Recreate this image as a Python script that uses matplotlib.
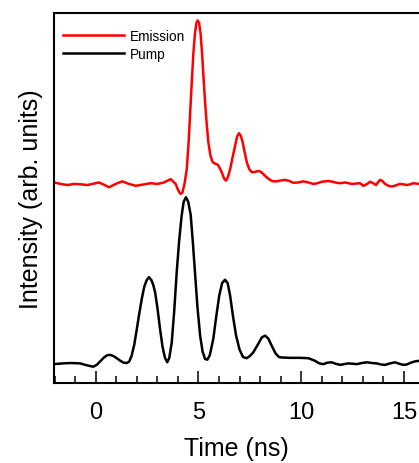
import matplotlib
matplotlib.use("Agg")
from matplotlib import pyplot as plt
from matplotlib.ticker import MultipleLocator

plt.rcParams['font.family'] = ['Liberation Sans', 'DejaVu Sans']

# emission trace (time in ns, intensity in arb. units)
emission_t = [-2.03, -1.70, -1.38, -1.06, -0.73, -0.41, -0.17, 0.16, 0.40, 0.65,
              0.97, 1.29, 1.62, 1.95, 2.27, 2.68, 3.00, 3.32, 3.65, 3.89,
              4.02, 4.13, 4.22, 4.32, 4.43, 4.52, 4.59, 4.67, 4.75, 4.83,
              4.90, 4.96, 5.03, 5.10, 5.17, 5.24, 5.32, 5.40, 5.48, 5.58,
              5.69, 5.80, 5.94, 6.04, 6.13, 6.24, 6.34, 6.44, 6.54, 6.66,
              6.78, 6.88, 6.97, 7.06, 7.15, 7.25, 7.35, 7.47, 7.59, 7.71,
              7.83, 7.95, 8.08, 8.20, 8.32, 8.48, 8.64, 8.80, 8.97, 9.21,
              9.42, 9.62, 9.85, 10.10, 10.35, 10.59, 10.80, 11.00, 11.32, 11.52,
              11.73, 11.93, 12.13, 12.30, 12.46, 12.66, 12.86, 13.02, 13.18, 13.35,
              13.50, 13.64, 13.73, 13.83, 13.95, 14.08, 14.24, 14.40, 14.60, 14.80,
              14.97, 15.13, 15.30, 15.46, 15.73]
emission_i = [54.2, 53.8, 53.5, 53.8, 53.7, 53.5, 53.8, 54.2, 53.6, 52.9,
              53.8, 54.5, 53.8, 53.3, 53.6, 54.0, 53.8, 54.2, 55.1, 53.8,
              52.0, 51.1, 51.5, 53.8, 57.8, 65.0, 72.5, 81.0, 89.0, 94.5,
              97.3, 98.0, 97.3, 94.5, 89.5, 83.0, 76.0, 70.0, 65.1, 61.5,
              59.7, 59.3, 59.0, 58.0, 57.0, 55.3, 54.7, 55.8, 57.8, 61.0,
              64.1, 66.6, 67.5, 66.8, 65.1, 62.3, 59.7, 57.8, 57.0, 57.0,
              57.2, 57.3, 56.9, 56.2, 55.6, 54.9, 54.5, 54.5, 54.7, 54.9,
              54.6, 54.1, 54.2, 54.5, 54.2, 53.8, 54.0, 54.4, 54.6, 54.4,
              54.1, 54.0, 54.2, 54.0, 53.8, 53.9, 54.0, 53.3, 53.7, 54.4,
              54.0, 53.5, 54.2, 54.9, 54.6, 53.8, 53.3, 53.1, 53.4, 53.8,
              53.7, 53.5, 53.7, 54.0, 53.8]

# pump trace
pump_t = [-2.03, -1.60, -1.20, -0.76, -0.44, -0.12, 0.05, 0.21, 0.40, 0.56,
          0.70, 0.86, 1.02, 1.20, 1.35, 1.51, 1.63, 1.75, 1.88, 2.00,
          2.12, 2.24, 2.36, 2.48, 2.59, 2.71, 2.80, 2.89, 3.01, 3.13,
          3.25, 3.37, 3.48, 3.58, 3.70, 3.82, 3.94, 4.06, 4.18, 4.28,
          4.39, 4.50, 4.62, 4.72, 4.83, 4.95, 5.08, 5.20, 5.32, 5.43,
          5.55, 5.72, 5.86, 6.01, 6.15, 6.29, 6.42, 6.54, 6.68, 6.83,
          7.00, 7.17, 7.35, 7.50, 7.67, 7.90, 8.08, 8.24, 8.40, 8.56,
          8.75, 8.92, 9.05, 9.46, 9.94, 10.35, 10.67, 10.88, 11.08, 11.28,
          11.48, 11.68, 11.89, 12.09, 12.29, 12.50, 12.70, 12.95, 13.19, 13.45,
          13.67, 13.88, 14.08, 14.32, 14.56, 14.77, 14.97, 15.13, 15.29, 15.50,
          15.73]
pump_i = [5.1, 5.3, 5.4, 5.3, 4.8, 4.4, 4.9, 5.8, 6.9, 7.5,
          7.6, 7.3, 6.7, 6.0, 5.5, 5.4, 5.8, 7.4, 10.5, 14.6,
          18.8, 22.7, 26.0, 27.8, 28.6, 27.8, 26.5, 24.5, 20.0, 14.6,
          9.8, 6.8, 5.6, 6.8, 11.0, 19.5, 29.9, 38.5, 45.2, 49.0,
          50.2, 49.0, 45.5, 38.5, 29.9, 20.5, 12.8, 8.5, 6.5, 6.3,
          7.5, 11.9, 17.8, 23.6, 27.0, 27.9, 27.0, 23.6, 18.0, 12.8,
          9.0, 7.0, 6.7, 7.3, 8.3, 10.5, 12.3, 12.8, 12.0, 10.1,
          8.0, 7.0, 6.9, 6.8, 6.8, 6.7, 6.0, 5.3, 5.1, 5.5,
          5.6, 5.2, 4.9, 5.1, 5.3, 5.2, 5.1, 5.4, 5.6, 5.4,
          5.3, 5.0, 4.9, 5.3, 5.6, 5.2, 4.9, 5.0, 5.4, 5.8,
          6.0]

fig = plt.figure(figsize=(4.19, 4.64), dpi=100)
ax = fig.add_axes([54/419, 80/464, 365/419, 370/464])

ax.plot(emission_t, emission_i, color='#ff0000', lw=1.8, label='Emission',
        solid_joinstyle='round')
ax.plot(pump_t, pump_i, color='black', lw=1.8, label='Pump',
        solid_joinstyle='round')

ax.set_xlim(-2.03, 15.73)
ax.set_ylim(0, 100)
ax.set_yticks([])
ax.xaxis.set_major_locator(MultipleLocator(5))
ax.xaxis.set_minor_locator(MultipleLocator(1))
ax.tick_params(axis='x', which='major', direction='in', length=8.5, width=1.1,
               labelsize=17, pad=13)
ax.tick_params(axis='x', which='minor', direction='in', length=4.8, width=1.1)
ax.spines['right'].set_visible(False)
for s in ['left', 'top', 'bottom']:
    ax.spines[s].set_linewidth(1.5)

ax.set_xlabel('Time (ns)', fontsize=18, labelpad=9)
ax.set_ylabel('Intensity (arb. units)', fontsize=18, labelpad=8)

ax.legend(loc='upper left', bbox_to_anchor=(0.025, 0.958), frameon=False,
          fontsize=9.8, handlelength=4.5, handletextpad=0.4, labelspacing=0.3,
          borderaxespad=0, borderpad=0)

fig.savefig('out.png', dpi=100)
